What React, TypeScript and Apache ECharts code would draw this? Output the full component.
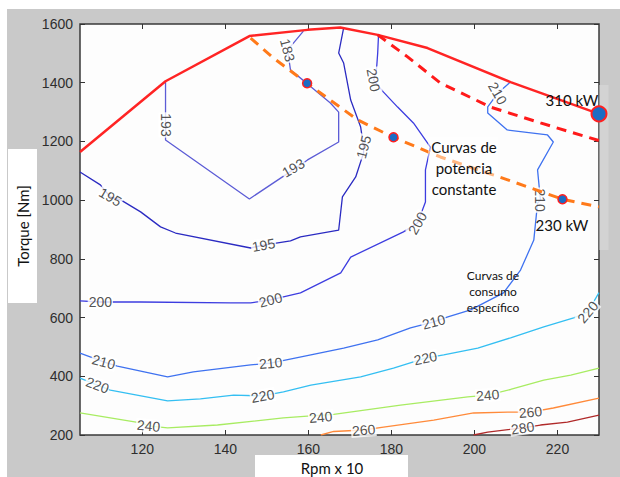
import React, { useEffect, useRef } from "react";
import * as echarts from "echarts";

// Axis ticks
const X_TICKS = [120, 140, 160, 180, 200, 220];

// Maximum torque curve [rpm/10, Nm]
const MAX_TORQUE = [[105, 1164], [125.6, 1405], [145.8, 1559], [159.8, 1580], [167.7, 1588], [176.7, 1563], [188.7, 1518], [208.7, 1402], [230, 1294]];
// Constant power curves
const POWER_310 = [[176.7, 1563], [183.9, 1488], [191.8, 1399], [203.9, 1317], [215.9, 1263], [230, 1203]];
const POWER_230 = [[146.1, 1552], [151.6, 1484], [159.7, 1398], [171.9, 1273], [180.5, 1214], [191.8, 1147], [208.0, 1069], [221.2, 1003], [230, 977]];
const POWER_230_POINTS = [[159.7, 1398], [180.5, 1214], [221.2, 1003]];
const POWER_310_POINT = [[230, 1294]];

// Specific consumption contours (g/kWh)
const C193 = [[158.8, 1576], [156.4, 1535], [155.0, 1511], [155.7, 1443], [159.3, 1402], [165.3, 1331], [167.3, 1300], [167.3, 1198], [159.8, 1137], [158.1, 1120], [145.8, 1004], [125.6, 1205], [125.6, 1402]];
const C195 = [[168.5, 1587], [167.3, 1501], [168.5, 1467], [170.2, 1341], [172.6, 1249], [173.3, 1181], [173.3, 1161], [171.4, 1079], [168.2, 1011], [167.3, 898], [158.1, 875], [155.7, 861], [149.2, 847], [146.1, 837], [128.0, 888], [124.4, 909], [119.6, 960], [114.8, 1001], [112.3, 1011], [109.9, 1052], [105, 1096]];
const C200 = [[176.9, 1563], [176.7, 1501], [176.4, 1443], [175.7, 1409], [178.1, 1368], [181.5, 1317], [185.3, 1263], [189.4, 1181], [188.2, 1103], [188.2, 994], [186.3, 922], [182.9, 892], [170.2, 806], [167.8, 752], [158.1, 684], [150.9, 660], [146.1, 650], [141.3, 650], [119.6, 653], [109.9, 653], [105, 657]];
const C210 = [[105, 479], [110.7, 449], [114.0, 435], [126.1, 398], [132.3, 415], [146.1, 439], [150.9, 445], [160.6, 473], [168.5, 496], [176.7, 524], [184.6, 565], [190.2, 585], [193.6, 602], [199.1, 626], [207.0, 684], [211.1, 762], [214.3, 864], [215.2, 990], [215.9, 1000], [215.2, 1103], [219.0, 1198], [217.6, 1222], [207.9, 1239], [203.2, 1297], [203.2, 1318], [205.6, 1364], [208.7, 1403]];
const C220 = [[105, 394], [109.2, 370], [112.3, 353], [126.1, 316], [134.0, 323], [142.0, 336], [149.0, 333], [154.0, 347], [160.6, 370], [172.6, 398], [180.5, 428], [188.2, 462], [192.6, 473], [200.8, 496], [208.7, 531], [216.7, 568], [223.9, 599], [227.3, 619], [230, 685]];
const C240 = [[105, 275], [119.6, 241], [121.5, 231], [126.1, 224], [138.1, 234], [154.0, 258], [160.6, 265], [166.1, 270], [182.2, 302], [198.4, 330], [203.2, 336], [208.7, 355], [216.7, 387], [223.2, 404], [230, 428]];
const C260 = [[163.0, 200], [166.1, 212], [173.3, 217], [178.1, 227], [190.2, 251], [199.8, 275], [208.0, 278], [213.5, 278], [219.0, 292], [230, 326]];
const C280 = [[199.8, 200], [203.2, 210], [211.6, 224], [215.9, 234], [222.4, 244], [230, 268]];

// Inline contour labels [x, y, text]
const CONTOUR_LABELS: [number, number, string][] = [
  [125.6, 1256, "193"], [155.0, 1511, "183"], [156.4, 1110, "193"],
  [112.3, 1011, "195"], [149.2, 847, "195"], [173.3, 1181, "195"],
  [109.9, 653, "200"], [150.9, 660, "200"], [186.3, 922, "200"], [175.7, 1409, "200"],
  [110.7, 449, "210"], [150.9, 445, "210"], [190.2, 585, "210"], [215.9, 1000, "210"], [205.6, 1364, "210"],
  [109.2, 370, "220"], [149.0, 333, "220"], [188.2, 462, "220"], [227.3, 619, "220"],
  [121.5, 231, "240"], [163.0, 261, "240"], [203.2, 336, "240"],
  [173.3, 217, "260"], [213.5, 278, "260"],
  [211.6, 224, "280"],
];
const LABEL_ANGLES = [-90, -75, 30, -30, 10, 75, 0, 15, 60, -80, -15, 5, 15, -90, -60, -20, 10, 12, 50, -5, 5, 5, 5, 5, 8];

const CONTOURS: { data: number[][]; color: string }[] = [
  { data: C193, color: "#5c5cd6" },
  { data: C195, color: "#2b2bc2" },
  { data: C200, color: "#3d3de0" },
  { data: C210, color: "#3f72f0" },
  { data: C220, color: "#34bff2" },
  { data: C240, color: "#a8ec62" },
  { data: C260, color: "#ff8a3a" },
  { data: C280, color: "#b02a2a" },
];

const LABEL_FONT = "Lato";
const TICK_FONT = "Liberation Sans";

export default function App() {
  const ref = useRef<HTMLDivElement>(null);
  useEffect(() => {
    document.body.style.margin = "0";
    if (!ref.current) return;
    const chart = echarts.init(ref.current, undefined, { renderer: "svg" });

    const axisCommon = {
      type: "value" as const,
      splitLine: { show: false },
      axisLine: { show: false },
    };

    const series: any[] = CONTOURS.map((c) => ({
      type: "line",
      data: c.data,
      showSymbol: false,
      symbol: "none",
      lineStyle: { color: c.color, width: 1.3 },
      z: 2,
      silent: true,
    }));

    series.push({
      type: "scatter",
      data: CONTOUR_LABELS.map((l, i) => ({
        name: l[2],
        value: [l[0], l[1]],
        label: { rotate: LABEL_ANGLES[i] },
      })),
      symbolSize: 1,
      itemStyle: { color: "rgba(0,0,0,0)" },
      clip: false,
      silent: true,
      z: 3,
      label: {
        show: true,
        position: "inside",
        formatter: "{b}",
        fontFamily: TICK_FONT,
        fontSize: 14,
        color: "#262626",
        backgroundColor: "#fff",
        padding: [0, 1],
      },
    });

    series.push({
      type: "line",
      data: MAX_TORQUE,
      showSymbol: false,
      symbol: "none",
      lineStyle: { color: "#ff2424", width: 2.5 },
      z: 4,
      silent: true,
    });
    series.push({
      type: "line",
      data: POWER_310,
      showSymbol: false,
      symbol: "none",
      lineStyle: { color: "#ff1a1a", width: 3, type: [10, 7] },
      z: 4,
      silent: true,
    });
    series.push({
      type: "line",
      data: POWER_230,
      showSymbol: false,
      symbol: "none",
      lineStyle: { color: "#ff7a1a", width: 3, type: [10, 7] },
      z: 4,
      silent: true,
    });
    series.push({
      type: "scatter",
      data: POWER_230_POINTS,
      symbolSize: 9,
      clip: false,
      itemStyle: { color: "#1b6cc4", borderColor: "#ff2020", borderWidth: 1.5, opacity: 1 },
      z: 5,
      silent: true,
    });
    series.push({
      type: "scatter",
      data: POWER_310_POINT,
      symbolSize: 15,
      clip: false,
      itemStyle: { color: "#1b6cc4", borderColor: "#ff2020", borderWidth: 2, opacity: 1 },
      z: 5,
      silent: true,
    });

    const annText = (text: string, x: number, y: number, size: number, lh: number) => ({
      type: "text",
      x,
      y,
      z: 100,
      style: {
        text,
        fill: "#111",
        fontFamily: LABEL_FONT,
        fontSize: size,
        lineHeight: lh,
        align: "center",
        verticalAlign: "middle",
      },
    });

    chart.setOption({
      animation: false,
      grid: {
        left: 80,
        top: 24,
        right: 21,
        bottom: 42,
        show: true,
        backgroundColor: "#fdfdfd",
        borderColor: "#3a3a3a",
        borderWidth: 1.5,
      },
      xAxis: [
        {
          ...axisCommon,
          min: 105,
          max: 230,
          position: "bottom",
          axisTick: { show: true, inside: true, length: 5, customValues: X_TICKS, lineStyle: { color: "#333" } },
          axisLabel: { show: true, customValues: X_TICKS, color: "#2e2e2e", fontSize: 14, fontFamily: TICK_FONT, margin: 7 },
        },
        {
          ...axisCommon,
          min: 105,
          max: 230,
          position: "top",
          axisTick: { show: true, inside: true, length: 5, customValues: X_TICKS, lineStyle: { color: "#333" } },
          axisLabel: { show: false },
        },
      ],
      yAxis: [
        {
          ...axisCommon,
          min: 200,
          max: 1600,
          interval: 200,
          position: "left",
          axisTick: { show: true, inside: true, length: 5, lineStyle: { color: "#333" } },
          axisLabel: {
            show: true,
            color: "#2e2e2e",
            fontSize: 14,
            fontFamily: TICK_FONT,
            margin: 7,
            formatter: (v: number) => String(v),
          },
        },
        {
          ...axisCommon,
          min: 200,
          max: 1600,
          interval: 200,
          position: "right",
          axisTick: { show: true, inside: true, length: 5, lineStyle: { color: "#333" } },
          axisLabel: { show: false },
        },
      ],
      series,
      graphic: [
        // light box behind "310 kW" in the margin
        { type: "rect", z: 1, shape: { x: 599.5, y: 85, width: 9, height: 165 }, style: { fill: "#d3d3d3" } },
        // y title box
        { type: "rect", z: 100, shape: { x: 8, y: 149, width: 29, height: 154 }, style: { fill: "#fff" } },
        {
          type: "text",
          z: 101,
          x: 23,
          y: 226,
          rotation: Math.PI / 2,
          style: { text: "Torque [Nm]", fill: "#111", fontFamily: LABEL_FONT, fontSize: 15, align: "center", verticalAlign: "middle" },
        },
        // x title box
        { type: "rect", z: 100, shape: { x: 255, y: 455, width: 153, height: 22 }, style: { fill: "#fff" } },
        {
          type: "text",
          z: 101,
          x: 332,
          y: 468,
          style: { text: "Rpm x 10", fill: "#111", fontFamily: LABEL_FONT, fontSize: 15, align: "center", verticalAlign: "middle" },
        },
        // annotation box over orange line
        { type: "rect", z: 99, shape: { x: 428, y: 137, width: 70, height: 62 }, style: { fill: "rgba(255,255,255,0.45)" } },
        annText("310 kW", 572, 100, 15, 18),
        annText("Curvas de\npotencia\nconstante", 464, 168, 15, 21),
        annText("230 kW", 562, 225, 15, 18),
        annText("Curvas de\nconsumo\nespecífico", 493, 291, 12, 16),
      ],
    });

    return () => chart.dispose();
  }, []);

  return (
    <div style={{ position: "relative", width: 620, height: 477, background: "#fff", overflow: "hidden" }}>
      <div style={{ position: "absolute", left: 7, top: 9, width: 613, height: 468, background: "#c9c9c9" }} />
      <div ref={ref} style={{ position: "absolute", left: 0, top: 0, width: 620, height: 477 }} />
    </div>
  );
}
